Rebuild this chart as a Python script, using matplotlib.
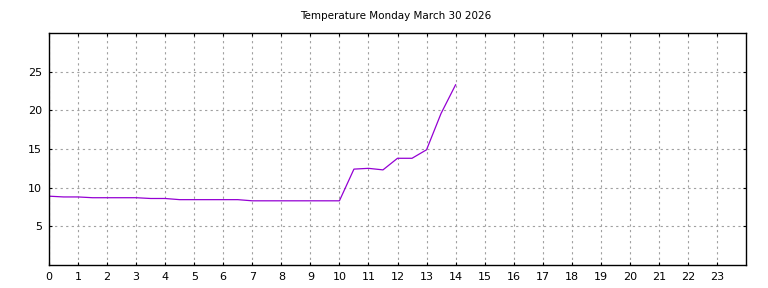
import matplotlib
matplotlib.use("Agg")
import matplotlib.pyplot as plt

# half-hourly readings
hours = [0, 0.5, 1, 1.5, 2, 2.5, 3, 3.5, 4, 4.5, 5, 5.5, 6, 6.5, 7, 7.5,
         8, 8.5, 9, 9.5, 10, 10.5, 11, 11.5, 12, 12.5, 13, 13.5, 14]
temps = [8.9, 8.8, 8.8, 8.7, 8.7, 8.7, 8.7, 8.6, 8.6, 8.45, 8.45, 8.45, 8.45, 8.45, 8.3, 8.3,
         8.3, 8.3, 8.3, 8.3, 8.3, 12.4, 12.5, 12.3, 13.8, 13.8, 14.9, 19.6, 23.3]

title = "Temperature Monday March 30 2026"
xticks = list(range(0, 24))
yticks = [5, 10, 15, 20, 25]

plt.rcParams["font.family"] = "DejaVu Sans"
fig = plt.figure(figsize=(7.68, 2.88), dpi=100)
ax = fig.add_axes([49 / 768, 1 - 265 / 288, 697 / 768, 232 / 288])

ax.plot(hours, temps, color="#9400d3", linewidth=0.9)

ax.set_xlim(0, 24)
ax.set_ylim(0, 30)
ax.set_xticks(xticks)
ax.set_yticks(yticks)
ax.tick_params(direction="in", length=2, width=0.8, labelsize=8,
               top=True, right=True, pad=5)
ax.grid(True, color="#a0a0a0", linestyle=(0, (2, 3)), linewidth=0.8)
for s in ax.spines.values():
    s.set_linewidth(1)

fig.text(396 / 768, 1 - 16 / 288, title, ha="center", va="center", fontsize=7.5)

fig.savefig("out.png", dpi=100)
